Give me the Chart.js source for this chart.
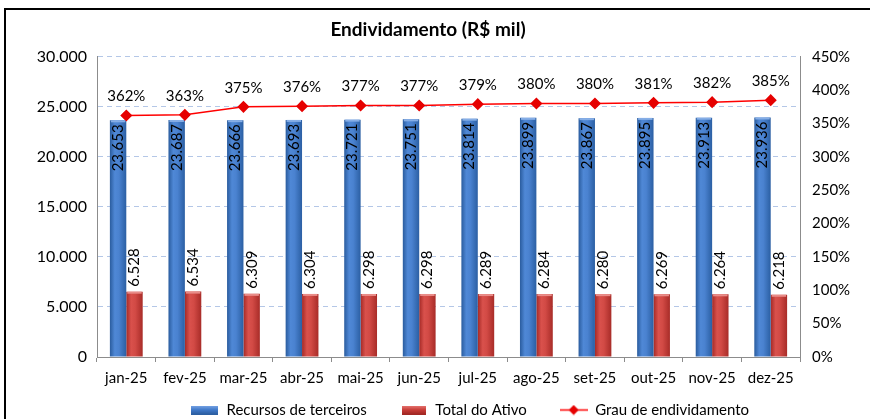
<!DOCTYPE html>
<html>
<head>
<meta charset="utf-8">
<script src="https://cdn.jsdelivr.net/npm/chart.js@4.4.1/dist/chart.umd.min.js"></script>
<style>
  html, body { margin: 0; padding: 0; background: #fff; }
  #wrap { position: relative; width: 870px; height: 419px; overflow: hidden; }
  #frame { position: absolute; left: 4px; top: 8px; width: 900px; height: 500px;
           border-left: 2px solid #000; border-top: 2px solid #000; }
  #graph { position: absolute; left: 0; top: 0; }
</style>
</head>
<body>
<div id="wrap">
  <div id="frame"></div>
  <canvas id="graph" width="870" height="419"></canvas>
</div>
<script>
const months = ['jan-25', 'fev-25', 'mar-25', 'abr-25', 'mai-25', 'jun-25',
                'jul-25', 'ago-25', 'set-25', 'out-25', 'nov-25', 'dez-25'];
const recursosTerceiros = [23653, 23687, 23666, 23693, 23721, 23751, 23814, 23899, 23867, 23895, 23913, 23936];
const totalAtivo = [6528, 6534, 6309, 6304, 6298, 6298, 6289, 6284, 6280, 6269, 6264, 6218];
const grauEndividamento = [362, 363, 375, 376, 377, 377, 379, 380, 380, 381, 382, 385];
const leftTicks = [0, 5000, 10000, 15000, 20000, 25000, 30000];
const rightTicks = [0, 50, 100, 150, 200, 250, 300, 350, 400, 450];

const FONT = 'Lato, "Open Sans", sans-serif';
const catPct = 0.56;

function fmt(n) {
    return String(n).replace(/\B(?=(\d{3})+(?!\d))/g, '.');
}

// horizontal "cylinder" gradient for each bar, placed with the x scale
function barFill(stops, solid, side) {
    return function (c) {
        const chart = c.chart;
        const x = chart.scales && chart.scales.x;
        if (!x || c.type !== 'data' || !chart.chartArea) return solid;
        const center = x.getPixelForValue(c.dataIndex);
        const bw = (x.width / months.length) * catPct / 2;
        const left = side === 0 ? center - bw : center;
        const g = chart.ctx.createLinearGradient(left, 0, left + bw, 0);
        stops.forEach(s => g.addColorStop(s[0], s[1]));
        return g;
    };
}
const blueStops = [[0, '#2a5c9e'], [0.3, '#4f88d6'], [0.55, '#4a82d0'], [1, '#2b5fa3']];
const redStops = [[0, '#a52a26'], [0.3, '#d9514c'], [0.55, '#d24a45'], [1, '#a82c28']];

function legendBar(c1, c2, c3, w, h) {
    const cv = document.createElement('canvas');
    cv.width = w; cv.height = h;
    const g = cv.getContext('2d');
    const gr = g.createLinearGradient(0, 0, 0, h);
    gr.addColorStop(0, c1);
    gr.addColorStop(0.5, c2);
    gr.addColorStop(1, c3);
    g.fillStyle = gr;
    g.fillRect(0, 0, w, h);
    return cv;
}
function legendLine(w, h) {
    const cv = document.createElement('canvas');
    cv.width = w; cv.height = h;
    const g = cv.getContext('2d');
    g.strokeStyle = '#ff0000';
    g.lineWidth = 1.5;
    g.beginPath();
    g.moveTo(0, h / 2); g.lineTo(w, h / 2);
    g.stroke();
    g.fillStyle = '#e60000';
    g.beginPath();
    g.moveTo(w / 2, h / 2 - 5); g.lineTo(w / 2 + 5, h / 2);
    g.lineTo(w / 2, h / 2 + 5); g.lineTo(w / 2 - 5, h / 2);
    g.closePath(); g.fill();
    return cv;
}
const legendIcons = [
    legendBar('#7aa6e6', '#3f78c8', '#2a5c9e', 27, 9),
    legendBar('#e87874', '#c73c37', '#9e2622', 24, 9),
    legendLine(28, 11)
];

const valueLabels = {
    id: 'valueLabels',
    afterDatasetsDraw(chart) {
        const ctx = chart.ctx;
        ctx.save();
        // lighter cap on top of the bars
        [[0, '#86aee6'], [1, '#e98c88']].forEach(([di, col]) => {
            ctx.fillStyle = col;
            chart.getDatasetMeta(di).data.forEach(bar => {
                ctx.fillRect(bar.x - bar.width / 2 + 1, bar.y, bar.width - 2, 2);
            });
        });
        ctx.font = '15px ' + FONT;
        ctx.fillStyle = '#000';
        ctx.textBaseline = 'middle';
        chart.getDatasetMeta(0).data.forEach((bar, i) => {
            ctx.save();
            ctx.translate(bar.x, bar.y + 4);
            ctx.rotate(-Math.PI / 2);
            ctx.textAlign = 'right';
            ctx.fillText(fmt(recursosTerceiros[i]), 0, 0);
            ctx.restore();
        });
        chart.getDatasetMeta(1).data.forEach((bar, i) => {
            ctx.save();
            ctx.translate(bar.x, bar.y - 5);
            ctx.rotate(-Math.PI / 2);
            ctx.textAlign = 'left';
            ctx.fillText(fmt(totalAtivo[i]), 0, 0);
            ctx.restore();
        });
        ctx.textAlign = 'center';
        chart.getDatasetMeta(2).data.forEach((pt, i) => {
            ctx.fillText(grauEndividamento[i] + '%', pt.x, pt.y - 19);
        });
        ctx.restore();
    }
};

// move the legend a bit (right/down), nudge the title, give the x labels room to draw
const legendPlace = {
    id: 'legendPlace',
    afterLayout(chart) {
        chart.legend.left += 70;
        chart.legend.top += 8.5;
        if (chart.titleBlock) chart.titleBlock.left -= 14;
        chart.scales.x.bottom = chart.scales.x.top + 40;
    }
};

const ctx = document.getElementById('graph');
const chart = new Chart(ctx, {
    data: {
        labels: months,
        datasets: [
            {
                type: 'bar',
                label: 'Recursos de terceiros',
                data: recursosTerceiros,
                backgroundColor: barFill(blueStops, '#3f78c8', 0),
                yAxisID: 'y',
                order: 1,
                barPercentage: 1,
                categoryPercentage: catPct
            },
            {
                type: 'bar',
                label: 'Total do Ativo',
                data: totalAtivo,
                backgroundColor: barFill(redStops, '#c73c37', 1),
                yAxisID: 'y',
                order: 1,
                barPercentage: 1,
                categoryPercentage: catPct
            },
            {
                type: 'line',
                label: 'Grau de endividamento',
                data: grauEndividamento,
                yAxisID: 'y1',
                order: 0,
                borderColor: '#ff0000',
                borderWidth: 1.5,
                pointStyle: 'rectRot',
                pointRadius: 5,
                pointBackgroundColor: '#e60000',
                pointBorderColor: '#e60000',
                tension: 0
            }
        ]
    },
    options: {
        responsive: false,
        animation: false,
        devicePixelRatio: 1,
        layout: { padding: { top: 9, left: 0, right: 0, bottom: 0 } },
        plugins: {
            title: {
                display: true,
                text: 'Endividamento (R$ mil)',
                color: '#000',
                font: { family: FONT, size: 19, weight: 'bold' },
                padding: { top: 9, bottom: 16 }
            },
            legend: {
                position: 'bottom',
                labels: {
                    color: '#000',
                    font: { family: FONT, size: 15 },
                    usePointStyle: true,
                    pointStyleWidth: 28,
                    padding: 33,
                    generateLabels(chart) {
                        return chart.data.datasets.map((ds, i) => ({
                            text: ds.label,
                            pointStyle: legendIcons[i],
                            datasetIndex: i,
                            hidden: false,
                            fontColor: '#000',
                            lineWidth: 0
                        }));
                    }
                }
            },
            tooltip: { enabled: false }
        },
        scales: {
            x: {
                offset: true,
                grid: { offset: true, drawOnChartArea: false, tickLength: 5, color: '#8c8c8c' },
                border: { color: '#8c8c8c' },
                ticks: { color: '#000', font: { family: FONT, size: 15 }, padding: 7, maxRotation: 0, autoSkip: false },
                afterFit(s) { s.height = 4; }
            },
            y: {
                position: 'left',
                min: 0,
                max: 30000,
                afterBuildTicks(s) { s.ticks = leftTicks.map(v => ({ value: v })); },
                grid: { color: '#b4c7e7', drawTicks: false },
                border: { color: '#8c8c8c', dash: [5, 4] },
                ticks: {
                    color: '#000',
                    font: { family: FONT, size: 16 },
                    padding: 10,
                    callback: v => fmt(v)
                },
                afterFit(s) { s.width = 97; }
            },
            y1: {
                position: 'right',
                min: 0,
                max: 450,
                afterBuildTicks(s) { s.ticks = rightTicks.map(v => ({ value: v })); },
                grid: { display: false, drawTicks: false },
                border: { color: '#8c8c8c' },
                ticks: {
                    color: '#000',
                    font: { family: FONT, size: 15 },
                    padding: 12,
                    callback: v => v + '%'
                },
                afterFit(s) { s.width = 70; }
            }
        }
    },
    plugins: [valueLabels, legendPlace]
});
</script>
</body>
</html>
